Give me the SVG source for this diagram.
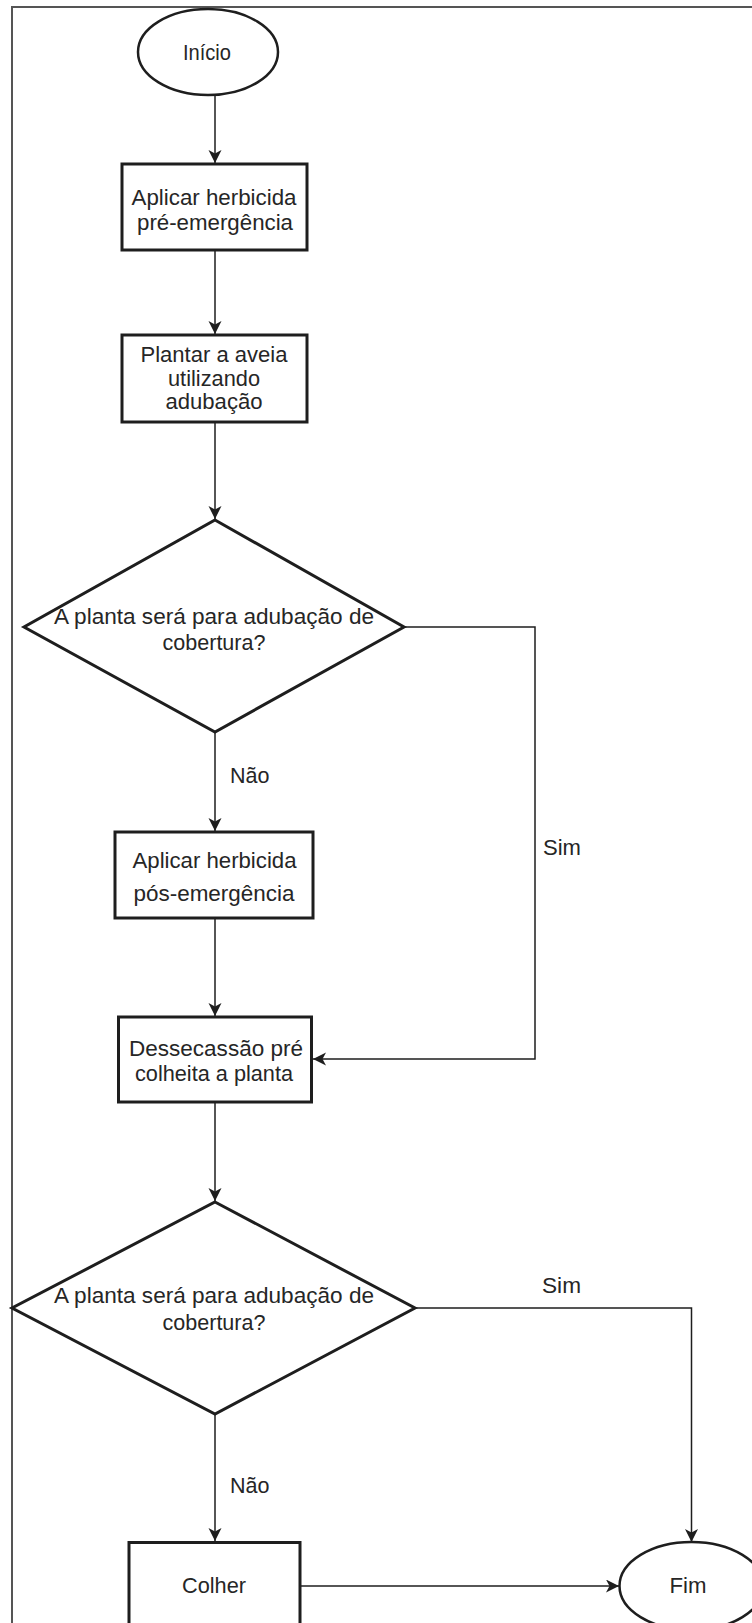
<svg xmlns="http://www.w3.org/2000/svg" width="752" height="1623" viewBox="0 0 752 1623">
  <style>
    .node { fill: #ffffff; stroke: #1e1e1e; stroke-width: 3; }
    .term { fill: #ffffff; stroke: #1e1e1e; stroke-width: 2.5; }
    .conn { fill: none; stroke: #1e1e1e; stroke-width: 1.5; }
    .frame { fill: none; stroke: #555555; stroke-width: 2; }
    text { font-family: "Liberation Sans", Arial, sans-serif; font-size: 22px; fill: #262626; }
    .c { text-anchor: middle; }
  </style>
  <defs>
    <marker id="arrow" markerUnits="userSpaceOnUse" markerWidth="14" markerHeight="14" refX="13" refY="6.5" orient="auto">
      <path d="M0,0 L13,6.5 L0,13 L3.5,6.5 Z" fill="#1e1e1e"/>
    </marker>
  </defs>
  <rect x="0" y="0" width="752" height="1623" fill="#ffffff"/>
  <path class="frame" d="M12,1623 V7 H752"/>

  <g id="connectors">
    <path class="conn" d="M215,96 V163" marker-end="url(#arrow)"/>
    <path class="conn" d="M215,251 V334" marker-end="url(#arrow)"/>
    <path class="conn" d="M215,422 V519" marker-end="url(#arrow)"/>
    <path class="conn" d="M215,733 V831" marker-end="url(#arrow)"/>
    <path class="conn" d="M215,918 V1016" marker-end="url(#arrow)"/>
    <path class="conn" d="M404,627 H535 V1059 H313" marker-end="url(#arrow)"/>
    <path class="conn" d="M215,1103 V1201" marker-end="url(#arrow)"/>
    <path class="conn" d="M415,1308 H691.5 V1542" marker-end="url(#arrow)"/>
    <path class="conn" d="M215,1414 V1541" marker-end="url(#arrow)"/>
    <path class="conn" d="M301,1586 H619" marker-end="url(#arrow)"/>
    <text x="230" y="783" textLength="39.5" lengthAdjust="spacingAndGlyphs">Não</text>
    <text x="543" y="855" textLength="38" lengthAdjust="spacingAndGlyphs">Sim</text>
    <text x="542" y="1293" textLength="39" lengthAdjust="spacingAndGlyphs">Sim</text>
    <text x="230" y="1493" textLength="39.5" lengthAdjust="spacingAndGlyphs">Não</text>
  </g>

  <g id="inicio">
    <ellipse class="term" cx="208" cy="52" rx="70" ry="43"/>
    <text class="c" x="207" y="60" textLength="48" lengthAdjust="spacingAndGlyphs">Início</text>
  </g>

  <g id="pre-emergencia">
    <rect class="node" x="122" y="164" width="185" height="86"/>
    <text class="c" x="214" y="205" textLength="165" lengthAdjust="spacingAndGlyphs">Aplicar herbicida</text>
    <text class="c" x="215" y="230" textLength="156" lengthAdjust="spacingAndGlyphs">pré-emergência</text>
  </g>

  <g id="plantar">
    <rect class="node" x="122" y="335" width="185" height="87"/>
    <text class="c" x="214" y="362" textLength="147" lengthAdjust="spacingAndGlyphs">Plantar a aveia</text>
    <text class="c" x="214" y="386" textLength="92" lengthAdjust="spacingAndGlyphs">utilizando</text>
    <text class="c" x="214" y="409" textLength="97" lengthAdjust="spacingAndGlyphs">adubação</text>
  </g>

  <g id="decisao1">
    <polygon class="node" points="215,520 404,627 215,732 24,627"/>
    <text class="c" x="214" y="624" textLength="320" lengthAdjust="spacingAndGlyphs">A planta será para adubação de</text>
    <text class="c" x="214" y="650" textLength="103" lengthAdjust="spacingAndGlyphs">cobertura?</text>
  </g>

  <g id="pos-emergencia">
    <rect class="node" x="115" y="832" width="198" height="86"/>
    <text class="c" x="214.5" y="868" textLength="164" lengthAdjust="spacingAndGlyphs">Aplicar herbicida</text>
    <text class="c" x="214" y="901" textLength="161" lengthAdjust="spacingAndGlyphs">pós-emergência</text>
  </g>

  <g id="dessecacao">
    <rect class="node" x="118.5" y="1017" width="193" height="85"/>
    <text class="c" x="216" y="1056" textLength="174" lengthAdjust="spacingAndGlyphs">Dessecassão pré</text>
    <text class="c" x="214" y="1081" textLength="158" lengthAdjust="spacingAndGlyphs">colheita a planta</text>
  </g>

  <g id="decisao2">
    <polygon class="node" points="215,1202 415,1308 215,1414 12,1308"/>
    <text class="c" x="214" y="1303" textLength="320" lengthAdjust="spacingAndGlyphs">A planta será para adubação de</text>
    <text class="c" x="214" y="1330" textLength="103" lengthAdjust="spacingAndGlyphs">cobertura?</text>
  </g>

  <g id="colher">
    <rect class="node" x="129" y="1542.5" width="171" height="100"/>
    <text class="c" x="214" y="1593" textLength="64" lengthAdjust="spacingAndGlyphs">Colher</text>
  </g>

  <g id="fim">
    <ellipse class="term" cx="691.5" cy="1586" rx="72" ry="44"/>
    <text class="c" x="688" y="1593" textLength="37" lengthAdjust="spacingAndGlyphs">Fim</text>
  </g>
</svg>
